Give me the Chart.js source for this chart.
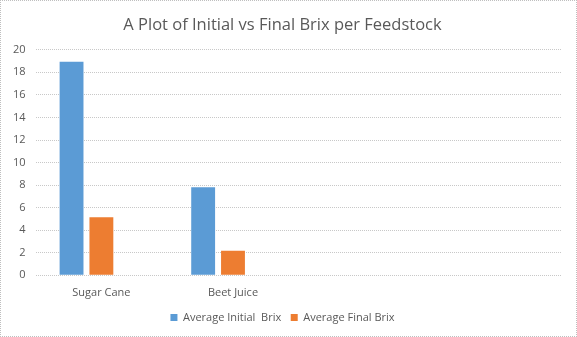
<!DOCTYPE html>
<html>
<head>
<meta charset="utf-8">
<script src="https://cdn.jsdelivr.net/npm/chart.js@4"></script>
<style>
  html, body { margin: 0; padding: 0; background: #fff; }
  #wrap { width: 577px; height: 337px; box-sizing: border-box; border: 1px dotted #bfbfbf; }
</style>
</head>
<body>
<div id="wrap"><canvas id="brixChart"></canvas></div>
<script>
// chart data
const feedstocks = ["Sugar Cane", "Beet Juice", "", ""];
const initialBrix = [18.93, 7.8, null, null];
const finalBrix = [5.14, 2.18, null, null];
const spareSeries = [null, null, null, null];   // empty third series in the original sheet
const yTicks = [0, 2, 4, 6, 8, 10, 12, 14, 16, 18, 20];

const grey = "#595959";
Chart.defaults.font.family = "'Open Sans', 'Liberation Sans', sans-serif";
Chart.defaults.color = grey;

const data = {
  labels: feedstocks,
  datasets: [
    { label: "Average Initial  Brix", data: initialBrix, backgroundColor: "#5B9BD5" },
    { label: "Average Final Brix", data: finalBrix, backgroundColor: "#ED7D31" },
    { label: "", data: spareSeries, backgroundColor: "#A5A5A5" }
  ]
};

const config = {
  type: "bar",
  data: data,
  options: {
    responsive: true,
    maintainAspectRatio: false,
    animation: false,
    categoryPercentage: 0.68,
    barPercentage: 0.8,
    layout: { padding: { left: 2, right: 14, top: 4, bottom: 3 } },
    plugins: {
      title: {
        display: true,
        text: "A Plot of Initial vs Final Brix per Feedstock",
        color: grey,
        font: { size: 16.5, weight: "normal" },
        padding: { top: 10, bottom: 15 }
      },
      legend: {
        position: "bottom",
        labels: {
          boxWidth: 7,
          boxHeight: 7,
          color: grey,
          font: { size: 11 },
          padding: 9.5,
          filter: (item) => item.text !== ""
        }
      },
      tooltip: { enabled: false }
    },
    scales: {
      x: {
        grid: { display: false },
        border: { display: false },
        ticks: { color: grey, font: { size: 11 }, maxRotation: 0, padding: 3 }
      },
      y: {
        min: 0,
        max: 20,
        afterBuildTicks: (axis) => { axis.ticks = yTicks.map((v) => ({ value: v })); },
        grid: { color: "#c8c8c8", drawTicks: false },
        border: { display: false, dash: [1, 1] },
        ticks: { color: grey, font: { size: 11 }, padding: 10 }
      }
    }
  }
};

const brixChart = new Chart(document.getElementById("brixChart"), config);
</script>
</body>
</html>
